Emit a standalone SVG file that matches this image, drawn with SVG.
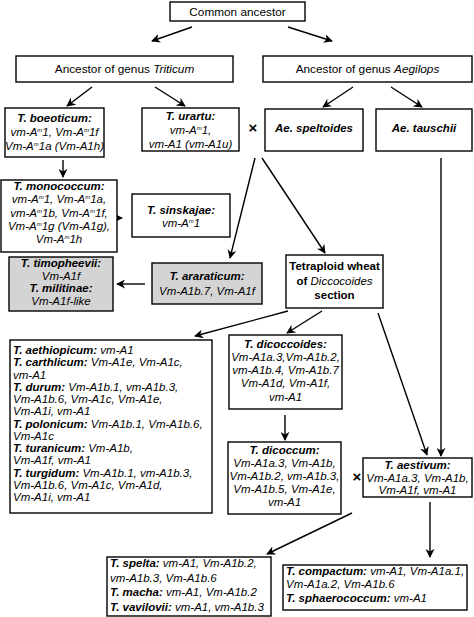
<svg xmlns="http://www.w3.org/2000/svg" width="474" height="617" viewBox="0 0 474 617">
<style>
.box{fill:#fff;stroke:#000;stroke-width:1.4}
.gray{fill:#d4d4d4}
text{font-family:"Liberation Sans",Arial,sans-serif;font-size:11.5px;fill:#000}
.c{text-anchor:middle}
.b{font-weight:bold;font-style:italic}
.bo{font-weight:bold}
.i{font-style:italic}
.hd{font-size:11.8px}
.sup{font-size:6px}
.x{font-size:15px;font-weight:bold;text-anchor:middle}
#connectors line{stroke:#000;stroke-width:1.4;marker-end:url(#ah)}
#connectors line.plain{marker-end:none}
</style>
<defs>
<marker id="ah" viewBox="0 0 10 10" refX="9" refY="5" markerUnits="userSpaceOnUse" markerWidth="9" markerHeight="9" orient="auto">
<path d="M0,0 L10,5 L0,10 L3,5 z" fill="#000"/>
</marker>
</defs>

<g id="connectors">
<line x1="192" y1="27" x2="152" y2="41"/>
<line x1="288" y1="27" x2="332" y2="41"/>
<line x1="92" y1="87" x2="67" y2="106"/>
<line x1="155" y1="87" x2="185" y2="106"/>
<line x1="353" y1="87" x2="323" y2="107"/>
<line x1="391" y1="87" x2="422" y2="107"/>
<line x1="63" y1="160" x2="63" y2="177"/>
<line x1="113" y1="218" x2="122" y2="218"/>
<line x1="255" y1="158" x2="230" y2="258"/>
<line x1="262" y1="158" x2="325" y2="253"/>
<line x1="441" y1="158" x2="441" y2="456"/>
<line x1="145" y1="284" x2="117" y2="284"/>
<line x1="288" y1="311" x2="195" y2="336"/>
<line x1="322" y1="311" x2="287" y2="333"/>
<line x1="378" y1="313" x2="427" y2="455"/>
<line x1="285" y1="415" x2="285" y2="440"/>
<line x1="352" y1="513" x2="267" y2="554"/>
<line x1="430" y1="502" x2="430" y2="557"/>
</g>

<g id="common">
<rect class="box" x="170" y="2" width="135" height="19"/>
<text class="c hd" x="237.5" y="15.5">Common ancestor</text>
</g>
<g id="triticum">
<rect class="box" x="16" y="56" width="217" height="26"/>
<text class="c hd" x="124.5" y="73">Ancestor of genus <tspan class="i">Triticum</tspan></text>
</g>
<g id="aegilops">
<rect class="box" x="263" y="56" width="209" height="26"/>
<text class="c hd" x="367.5" y="73">Ancestor of genus <tspan class="i">Aegilops</tspan></text>
</g>

<g id="boeoticum">
<rect class="box" x="5" y="108" width="99" height="49"/>
<text class="c b" x="54.5" y="122">T. boeoticum:</text>
<text class="c i" x="54.5" y="136">vm-A<tspan class="sup" dy="-4">m</tspan><tspan dy="4">1, Vm-A</tspan><tspan class="sup" dy="-4">m</tspan><tspan dy="4">1f</tspan></text>
<text class="c i" x="54.5" y="150">Vm-A<tspan class="sup" dy="-4">m</tspan><tspan dy="4">1a (Vm-A1h)</tspan></text>
</g>
<g id="urartu">
<rect class="box" x="142" y="108" width="97" height="43"/>
<text class="c b" x="190.5" y="120">T. urartu:</text>
<text class="c i" x="190.5" y="134">vm-A<tspan class="sup" dy="-4">m</tspan><tspan dy="4">1,</tspan></text>
<text class="c i" x="190.5" y="148">vm-A1 (vm-A1u)</text>
</g>
<text class="x" x="253" y="133">×</text>
<g id="speltoides">
<rect class="box" x="265" y="109" width="98" height="42"/>
<text class="c b" x="314" y="132">Ae. speltoides</text>
</g>
<g id="tauschii">
<rect class="box" x="376" y="109" width="96" height="42"/>
<text class="c b" x="424" y="132">Ae. tauschii</text>
</g>

<g id="monococcum">
<rect class="box" x="1" y="180" width="116" height="72"/>
<text class="c b" x="59" y="190">T. monococcum:</text>
<text class="c i" x="59" y="203">vm-A<tspan class="sup" dy="-4">m</tspan><tspan dy="4">1, Vm-A</tspan><tspan class="sup" dy="-4">m</tspan><tspan dy="4">1a,</tspan></text>
<text class="c i" x="59" y="217">vm-A<tspan class="sup" dy="-4">m</tspan><tspan dy="4">1b, Vm-A</tspan><tspan class="sup" dy="-4">m</tspan><tspan dy="4">1f,</tspan></text>
<text class="c i" x="59" y="230">Vm-A<tspan class="sup" dy="-4">m</tspan><tspan dy="4">1g (Vm-A1g),</tspan></text>
<text class="c i" x="59" y="243">Vm-A<tspan class="sup" dy="-4">m</tspan><tspan dy="4">1h</tspan></text>
</g>
<g id="sinskajae">
<rect class="box" x="132" y="194" width="98" height="43"/>
<text class="c b" x="181" y="214">T. sinskajae:</text>
<text class="c i" x="181" y="227">vm-A<tspan class="sup" dy="-4">m</tspan><tspan dy="4">1</tspan></text>
</g>
<g id="timopheevii">
<rect class="box gray" x="9" y="257" width="104" height="54"/>
<text class="c b" x="61" y="267">T. timopheevii:</text>
<text class="c i" x="61" y="279.5">Vm-A1f</text>
<text class="c b" x="61" y="292">T. militinae:</text>
<text class="c i" x="61" y="304.5">Vm-A1f-like</text>
</g>
<g id="araraticum">
<rect class="box gray" x="152" y="263" width="110" height="41"/>
<text class="c b" x="207" y="280">T. araraticum:</text>
<text class="c i" x="207" y="295">Vm-A1b.7, Vm-A1f</text>
</g>
<g id="tetraploid">
<rect class="box" x="286" y="255" width="97" height="53"/>
<text class="c bo" x="334.5" y="270">Tetraploid wheat</text>
<text class="c" x="334.5" y="285"><tspan class="bo">of </tspan><tspan class="i">Diccocoides</tspan></text>
<text class="c bo" x="334.5" y="299">section</text>
</g>

<g id="aethiopicum">
<rect class="box" x="10" y="340" width="202" height="173"/>
<text x="13" y="354"><tspan class="b">T. aethiopicum:</tspan><tspan class="i"> vm-A1</tspan></text>
<text x="13" y="366.25"><tspan class="b">T. carthlicum:</tspan><tspan class="i"> Vm-A1e, Vm-A1c,</tspan></text>
<text class="i" x="13" y="378.5">vm-A1</text>
<text x="13" y="390.75"><tspan class="b">T. durum:</tspan><tspan class="i"> Vm-A1b.1, vm-A1b.3,</tspan></text>
<text class="i" x="13" y="403">Vm-A1b.6, Vm-A1c, Vm-A1e,</text>
<text class="i" x="13" y="415.25">Vm-A1i, vm-A1</text>
<text x="13" y="427.5"><tspan class="b">T. polonicum:</tspan><tspan class="i"> Vm-A1b.1, Vm-A1b.6,</tspan></text>
<text class="i" x="13" y="439.75">Vm-A1c</text>
<text x="13" y="452"><tspan class="b">T. turanicum:</tspan><tspan class="i"> Vm-A1b,</tspan></text>
<text class="i" x="13" y="464.25">Vm-A1f, vm-A1</text>
<text x="13" y="476.5"><tspan class="b">T. turgidum:</tspan><tspan class="i"> Vm-A1b.1, vm-A1b.3,</tspan></text>
<text class="i" x="13" y="488.75">Vm-A1b.6, Vm-A1c, Vm-A1d,</text>
<text class="i" x="13" y="501">Vm-A1i, vm-A1</text>
</g>
<g id="dicoccoides">
<rect class="box" x="229" y="335" width="113" height="74"/>
<text class="c b" x="285.5" y="348">T. dicoccoides:</text>
<text class="c i" x="285.5" y="361">Vm-A1a.3,Vm-A1b.2,</text>
<text class="c i" x="285.5" y="374">vm-A1b.4, Vm-A1b.7</text>
<text class="c i" x="285.5" y="387">Vm-A1d, Vm-A1f,</text>
<text class="c i" x="285.5" y="401">vm-A1</text>
</g>
<g id="dicoccum">
<rect class="box" x="228" y="442" width="113" height="72"/>
<text class="c b" x="284.5" y="454">T. dicoccum:</text>
<text class="c i" x="284.5" y="467">Vm-A1a.3, Vm-A1b,</text>
<text class="c i" x="284.5" y="480">Vm-A1b.2, vm-A1b.3,</text>
<text class="c i" x="284.5" y="493">Vm-A1b.5, Vm-A1e,</text>
<text class="c i" x="284.5" y="506">vm-A1</text>
</g>
<text class="x" x="357" y="482">×</text>
<g id="aestivum">
<rect class="box" x="363" y="458" width="109" height="39"/>
<text class="c b" x="417.5" y="469">T. aestivum:</text>
<text class="c i" x="417.5" y="481.5">Vm-A1a.3, Vm-A1b,</text>
<text class="c i" x="417.5" y="494">Vm-A1f, vm-A1</text>
</g>
<g id="spelta">
<rect class="box" x="107" y="557" width="164" height="59"/>
<text x="110" y="567"><tspan class="b">T. spelta:</tspan><tspan class="i"> vm-A1, Vm-A1b.2,</tspan></text>
<text class="i" x="110" y="581.5">vm-A1b.3, Vm-A1b.6</text>
<text x="110" y="596"><tspan class="b">T. macha:</tspan><tspan class="i"> vm-A1, Vm-A1b.2</tspan></text>
<text x="110" y="610.5"><tspan class="b">T. vavilovii:</tspan><tspan class="i"> vm-A1, vm-A1b.3</tspan></text>
</g>
<g id="compactum">
<rect class="box" x="283" y="565" width="184" height="45"/>
<text x="286" y="574.5"><tspan class="b">T. compactum:</tspan><tspan class="i"> vm-A1, Vm-A1a.1,</tspan></text>
<text class="i" x="286" y="588">Vm-A1a.2, Vm-A1b.6</text>
<text x="286" y="601.5"><tspan class="b">T. sphaerococcum:</tspan><tspan class="i"> vm-A1</tspan></text>
</g>
</svg>
